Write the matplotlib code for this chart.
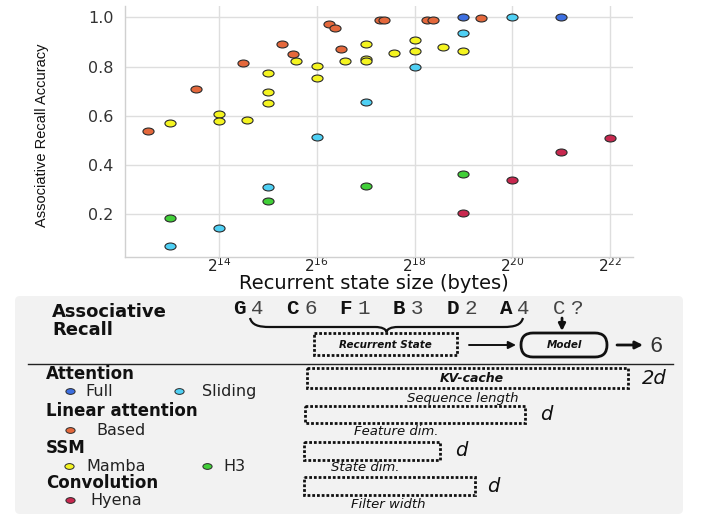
import numpy as np
import matplotlib
matplotlib.use('Agg')
import matplotlib.pyplot as plt
from matplotlib.path import Path
from matplotlib.patches import Rectangle, FancyBboxPatch, PathPatch
from matplotlib.transforms import Affine2D
from matplotlib.ticker import NullLocator

plt.rcParams['mathtext.fontset'] = 'dejavusans'

# ---------------- data (log2 of recurrent state size in bytes, accuracy) -------------
full_log2 = [19.0, 21.0]
full_acc = [1.0, 1.0]
sliding_log2 = [13.0, 14.0, 15.0, 16.0, 17.0, 18.0, 19.0, 20.0]
sliding_acc = [0.073, 0.145, 0.313, 0.514, 0.655, 0.797, 0.935, 1.0]
based_log2 = [12.54, 13.52, 14.50, 15.28, 15.51, 16.26, 16.37, 16.49, 17.29, 17.38,
              18.26, 18.37, 19.35]
based_acc = [0.539, 0.710, 0.816, 0.890, 0.851, 0.973, 0.955, 0.870, 0.989, 0.989,
             0.989, 0.989, 0.996]
mamba_log2 = [13.0, 14.0, 14.0, 14.58, 15.0, 15.0, 15.0, 15.58, 16.0, 16.0, 16.58,
              17.0, 17.0, 17.0, 17.58, 18.0, 18.0, 18.58, 19.0]
mamba_acc = [0.571, 0.609, 0.581, 0.582, 0.774, 0.698, 0.651, 0.821, 0.802, 0.754,
             0.821, 0.893, 0.832, 0.821, 0.854, 0.908, 0.863, 0.881, 0.862]
h3_log2 = [13.0, 15.0, 17.0, 19.0]
h3_acc = [0.187, 0.256, 0.316, 0.362]
hyena_log2 = [19.0, 20.0, 21.0, 22.0]
hyena_acc = [0.205, 0.341, 0.455, 0.508]

xtick_exp = [14, 16, 18, 20, 22]
ytick_vals = [0.2, 0.4, 0.6, 0.8, 1.0]
ytick_labels = ['0.2', '0.4', '0.6', '0.8', '1.0']

series_names = ['Full', 'Sliding', 'Based', 'Mamba', 'H3', 'Hyena']
series_colors = {'Full': '#3d6fe0', 'Sliding': '#4fd0f4', 'Based': '#e4683c',
                 'Mamba': '#f4f420', 'H3': '#41cf38', 'Hyena': '#c8284f'}
series_data = {'Full': (full_log2, full_acc), 'Sliding': (sliding_log2, sliding_acc),
               'Based': (based_log2, based_acc), 'Mamba': (mamba_log2, mamba_acc),
               'H3': (h3_log2, h3_acc), 'Hyena': (hyena_log2, hyena_acc)}

seq_letters = ['G', 'C', 'F', 'B', 'D', 'A', 'C']
seq_values = ['4', '6', '1', '3', '2', '4', '?']

# ---------------- figure ----------------
W, H = 721, 517
fig = plt.figure(figsize=(W / 100, H / 100), dpi=100)
fig.patch.set_facecolor('white')

ellipse = Path.unit_circle().transformed(Affine2D().scale(1.6, 1.0))

ax = fig.add_axes([124.7 / W, 1 - 256.7 / H, (633 - 124.7) / W, (256.7 - 6) / H])
ax.set_xscale('log', base=2)
for name in ['Hyena', 'H3', 'Mamba', 'Sliding', 'Based', 'Full']:
    xs, ys = series_data[name]
    ax.scatter(2.0 ** np.array(xs), ys, s=64, marker=ellipse, c=series_colors[name],
               edgecolors='#2a2a2a', linewidths=0.8, zorder=3)
ax.set_xlim(2 ** 12.07, 2 ** 22.47)
ax.set_ylim(0.028, 1.046)
ax.set_xticks(2.0 ** np.array(xtick_exp))
ax.set_xticklabels([f'$2^{{{e}}}$' for e in xtick_exp], fontsize=11, color='#222222')
ax.xaxis.set_minor_locator(NullLocator())
ax.set_yticks(ytick_vals)
ax.set_yticklabels(ytick_labels, fontsize=11.5, color='#333333')
ax.tick_params(axis='both', length=0)
ax.tick_params(axis='y', pad=8)
ax.tick_params(axis='x', pad=0)
ax.grid(True, color='#dedede', lw=1.0)
ax.set_axisbelow(True)
for s in ['top', 'right']:
    ax.spines[s].set_visible(False)
for s in ['left', 'bottom']:
    ax.spines[s].set_color('#d0d0d0')
    ax.spines[s].set_linewidth(1.0)
ax.set_xlabel('Recurrent state size (bytes)', fontsize=14, color='#111111', va='top')
ax.xaxis.set_label_coords(0.49, -0.07)
ax.set_ylabel('Associative Recall Accuracy', fontsize=10.5, color='#111111',
              family=['Liberation Sans', 'DejaVu Sans'], va='center', ha='center')
ax.yaxis.set_label_coords(-0.163, 0.485)

# ---------------- diagram panel (pixel coordinates) ----------------
ax2 = fig.add_axes([0, 0, 1, 1])
ax2.set_xlim(0, W)
ax2.set_ylim(H, 0)
ax2.set_axis_off()
ax2.patch.set_alpha(0)

ax2.add_patch(FancyBboxPatch((15, 296), 668, 218, boxstyle='round,pad=0,rounding_size=5',
                             fc='#f2f2f2', ec='none', zorder=0))
ax2.plot([28, 673], [364, 364], color='#222222', lw=1.0)

bold = dict(fontweight='bold', color='#111111', family='DejaVu Sans')
ax2.text(52, 317, 'Associative', fontsize=13, va='baseline', ha='left', **bold)
ax2.text(52, 335, 'Recall', fontsize=13, va='baseline', ha='left', **bold)

# sequence
for i, (L, v) in enumerate(zip(seq_letters, seq_values)):
    x0 = 233 + i * 53.3
    if i < len(seq_letters) - 1:
        ax2.text(x0, 314, L, fontsize=15, fontweight='bold', family='Liberation Mono',
                 va='baseline', ha='left', color='#111111')
    else:
        ax2.text(x0, 314, L, fontsize=15, family='Liberation Mono',
                 va='baseline', ha='left', color='#444444')
    ax2.text(x0 + 18, 314, v, fontsize=15, family='Liberation Mono',
             va='baseline', ha='left', color='#444444')

# brace
verts = [(250, 318), (252, 325), (258, 327), (270, 327), (375, 327),
         (382, 327), (386, 329), (386.5, 332),
         (387, 329), (391, 327), (398, 327), (503, 327),
         (515, 327), (521, 325), (523, 318)]
codes = [Path.MOVETO, Path.CURVE4, Path.CURVE4, Path.CURVE4, Path.LINETO,
         Path.CURVE4, Path.CURVE4, Path.CURVE4,
         Path.CURVE4, Path.CURVE4, Path.CURVE4, Path.LINETO,
         Path.CURVE4, Path.CURVE4, Path.CURVE4]
ax2.add_patch(PathPatch(Path(verts, codes), fc='none', ec='#111111', lw=1.6))

dotted = dict(fill=False, ec='#111111', lw=2.0, ls=(0, (1.0, 0.7)))
bi = dict(fontweight='bold', style='italic', family='DejaVu Sans', color='#111111')
it = dict(style='italic', family='DejaVu Sans', color='#111111')

ax2.add_patch(Rectangle((314, 333), 143, 22, **dotted))
ax2.text(385.5, 344.5, 'Recurrent State', fontsize=7.5, ha='center', va='center', **bi)

ax2.annotate('', xy=(516, 345), xytext=(469, 345),
             arrowprops=dict(arrowstyle='-|>', lw=1.4, color='#111111',
                             mutation_scale=11, shrinkA=0, shrinkB=0))
ax2.add_patch(FancyBboxPatch((521, 333), 86, 24, boxstyle='round,pad=0,rounding_size=12',
                             fc='none', ec='#111111', lw=2.0))
ax2.text(564, 345, 'Model', fontsize=7.5, ha='center', va='center', **bi)
ax2.annotate('', xy=(643, 345), xytext=(617, 345),
             arrowprops=dict(arrowstyle='-|>', lw=2.0, color='#111111',
                             mutation_scale=11, shrinkA=0, shrinkB=0))
ax2.text(649, 352, '6', fontsize=16, family='Liberation Mono', ha='left', va='baseline',
         color='#333333')
ax2.annotate('', xy=(562, 331), xytext=(562, 318),
             arrowprops=dict(arrowstyle='-|>', lw=2.0, color='#111111',
                             mutation_scale=10, shrinkA=0, shrinkB=0))

# legend groups
hd = dict(fontsize=12, va='baseline', ha='left', **bold)
lg = dict(fontsize=11.5, va='baseline', ha='left', color='#222222', family='DejaVu Sans')
ax2.text(46, 379, 'Attention', **hd)
ax2.text(46, 416, 'Linear attention', **hd)
ax2.text(46, 453, 'SSM', **hd)
ax2.text(46, 488, 'Convolution', **hd)

legend_pos = {'Full': (70, 391, 85, 396), 'Sliding': (179, 391, 202, 396),
              'Based': (70, 430, 96, 435), 'Mamba': (69, 466, 86, 471),
              'H3': (207, 466, 223, 471), 'Hyena': (70, 500, 90, 505)}
for name in series_names:
    mx, my, tx, ty = legend_pos[name]
    ax2.scatter([mx], [my], s=44, marker=ellipse, c=series_colors[name],
                edgecolors='#2a2a2a', linewidths=0.7, zorder=3)
    ax2.text(tx, ty, name, **lg)

# memory boxes
cap = dict(fontsize=9.5, ha='center', va='baseline', **it)
ax2.add_patch(Rectangle((307, 368), 321, 20, **dotted))
ax2.text(472, 378, 'KV-cache', fontsize=9, ha='center', va='center', **bi)
ax2.text(642, 378, '2d', fontsize=14, ha='left', va='center', **it)
ax2.text(463, 402, 'Sequence length', **cap)

ax2.add_patch(Rectangle((305, 406), 220, 17, **dotted))
ax2.text(540, 414, 'd', fontsize=14, ha='left', va='center', **it)
ax2.text(396, 435, 'Feature dim.', **cap)

ax2.add_patch(Rectangle((304, 442), 136, 18, **dotted))
ax2.text(455, 451, 'd', fontsize=14, ha='left', va='center', **it)
ax2.text(365, 471, 'State dim.', **cap)

ax2.add_patch(Rectangle((304, 477), 171, 18, **dotted))
ax2.text(487, 486, 'd', fontsize=14, ha='left', va='center', **it)
ax2.text(388, 508, 'Filter width', **cap)

fig.savefig('out.png', dpi=100)
